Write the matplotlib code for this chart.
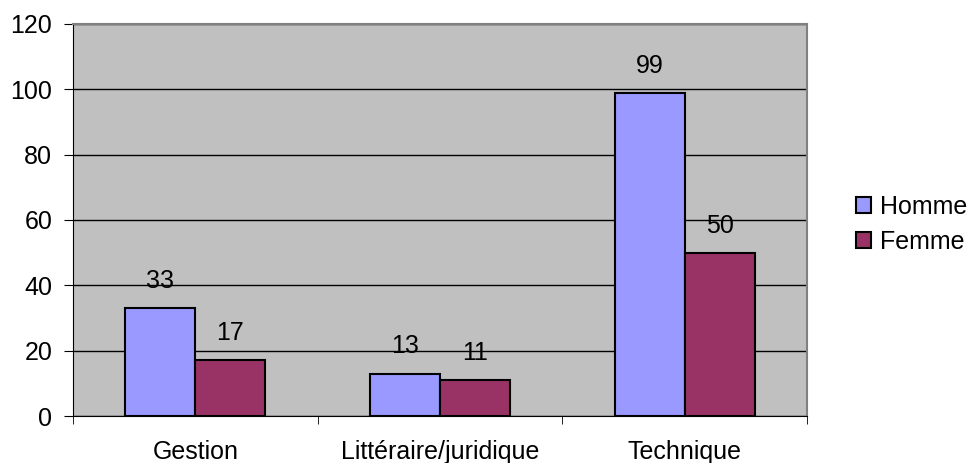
import matplotlib
matplotlib.use('Agg')
import matplotlib.pyplot as plt
import numpy as np

plt.rcParams['font.family'] = ['Liberation Sans', 'DejaVu Sans']

categories = ['Gestion', 'Littéraire/juridique', 'Technique']
homme = [33, 13, 99]
femme = [17, 11, 50]
y_ticks = [0, 20, 40, 60, 80, 100, 120]

FS = 18

fig = plt.figure(figsize=(9.75, 4.63), dpi=100)
ax = fig.add_axes([0.0749, 0.1015, 0.7528, 0.8467])
ax.set_facecolor('#C0C0C0')

x = np.arange(len(categories))
w = 0.286
b1 = ax.bar(x - w / 2, homme, w, color='#9999FF', edgecolor='black', linewidth=1.5,
            label='Homme', zorder=3)
b2 = ax.bar(x + w / 2, femme, w, color='#993366', edgecolor='black', linewidth=1.5,
            label='Femme', zorder=3)

for bars, vals in ((b1, homme), (b2, femme)):
    for bar, v in zip(bars, vals):
        ax.annotate(str(v), (bar.get_x() + bar.get_width() / 2, v),
                    xytext=(0, 19.5), textcoords='offset points',
                    ha='center', va='center', fontsize=FS)

ax.set_xlim(-0.5, 2.5)
ax.set_ylim(0, 120)
ax.set_yticks(y_ticks)
ax.set_yticklabels([str(t) for t in y_ticks], fontsize=FS)
ax.yaxis.grid(True, color='black', linewidth=1, zorder=1)
ax.set_axisbelow(True)

# category labels centered, ticks on the boundaries
ax.set_xticks(x)
ax.set_xticklabels(categories, fontsize=FS)
ax.tick_params(axis='x', length=0, pad=17)
ax.set_xticks([-0.5, 0.5, 1.5, 2.5], minor=True)
ax.tick_params(axis='x', which='minor', length=6, direction='out')
ax.tick_params(axis='y', length=6.5, direction='out', pad=8.5)

for side in ('top', 'right'):
    ax.spines[side].set_color('#808080')
    ax.spines[side].set_linewidth(1.5)
ax.spines['left'].set_color('black')
ax.spines['bottom'].set_color('black')

fig.legend(handles=[b1, b2], loc='center left', bbox_to_anchor=(0.878, 0.515),
           frameon=False, fontsize=FS, handlelength=0.6, handleheight=0.6,
           handletextpad=0.36, labelspacing=0.45, borderaxespad=0, borderpad=0)

fig.savefig('out.png', dpi=100)
